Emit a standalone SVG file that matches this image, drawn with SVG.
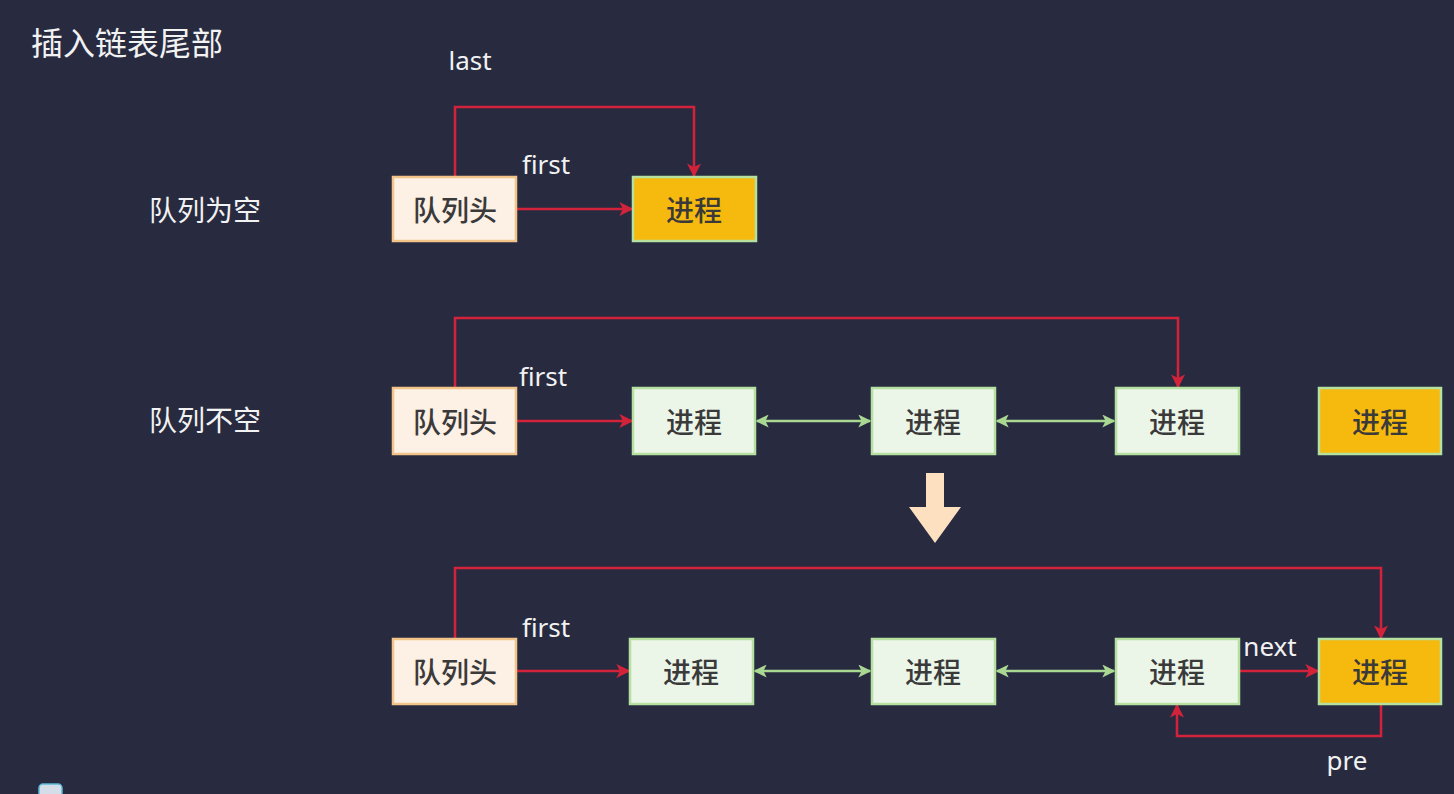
<svg xmlns="http://www.w3.org/2000/svg" width="1454" height="794" viewBox="0 0 1454 794">
<style>
.bg{fill:#282b40}
.head rect{fill:#fdf0e5;stroke:#f3c489;stroke-width:2.5}
.proc rect{fill:#ebf5e8;stroke:#b5e09f;stroke-width:2.5}
.cur rect{fill:#f6b90e;stroke:#b5e09f;stroke-width:2.5}
.nt{font-family:"Noto Sans CJK SC","Noto Sans",sans-serif;font-size:28px;font-weight:500;fill:#3a3a3a;text-anchor:middle;dominant-baseline:central}
.lbl{font-family:"Noto Sans CJK SC","Noto Sans",sans-serif;font-size:28px;fill:#f2f2f2}
.en{font-family:"Noto Sans","Open Sans",sans-serif;font-size:26px;fill:#f2f2f2;text-anchor:middle}
.red{fill:none;stroke:#d3233a;stroke-width:2.5;marker-end:url(#ra)}
.grn{fill:none;stroke:#a9d892;stroke-width:2.5;marker-end:url(#ga);marker-start:url(#gs)}
</style>
<defs>
<marker id="ra" viewBox="0 0 10 10" refX="9" refY="5" markerWidth="14" markerHeight="14" orient="auto" markerUnits="userSpaceOnUse"><path d="M0,0 L10,5 L0,10 L2.5,5 Z" fill="#d3233a"/></marker>
<marker id="ga" viewBox="0 0 10 10" refX="9" refY="5" markerWidth="13" markerHeight="13" orient="auto" markerUnits="userSpaceOnUse"><path d="M0,0 L10,5 L0,10 L2.5,5 Z" fill="#a9d892"/></marker>
<marker id="gs" viewBox="0 0 10 10" refX="1" refY="5" markerWidth="13" markerHeight="13" orient="auto" markerUnits="userSpaceOnUse"><path d="M10,0 L0,5 L10,10 L7.5,5 Z" fill="#a9d892"/></marker>
</defs>
<rect class="bg" x="0" y="0" width="1454" height="794"/>

<g id="labels">
<text class="lbl" x="31" y="55" style="font-size:32px">插入链表尾部</text>
<text class="lbl" x="149" y="221">队列为空</text>
<text class="lbl" x="149" y="431">队列不空</text>
</g>

<g id="connectors">
<path class="red" d="M455,177 V107 H694 V176"/>
<path class="red" d="M516,209 H632"/>
<text class="en" x="470" y="70">last</text>
<text class="en" x="546" y="174">first</text>
<path class="red" d="M455,388 V318 H1178 V387"/>
<path class="red" d="M516,421 H632"/>
<text class="en" x="543" y="386">first</text>
<path class="grn" d="M757,421 H870"/>
<path class="grn" d="M997,421 H1114"/>
<path class="red" d="M455,639 V568 H1381 V638"/>
<path class="red" d="M516,671 H629"/>
<text class="en" x="546" y="637">first</text>
<path class="grn" d="M755,671 H870"/>
<path class="grn" d="M997,671 H1114"/>
<path class="red" d="M1239,671 H1318"/>
<text class="en" x="1270" y="656">next</text>
<path class="red" d="M1381,704 V736 H1177 V705"/>
<text class="en" x="1347" y="770">pre</text>
</g>

<g id="big-arrow">
<path d="M926,473 H944 V507 H961 L935,543 L909,507 H926 Z" fill="#fde0bf"/>
</g>

<g id="n-head1" class="head"><rect x="393" y="177" width="123" height="64"/><text class="nt" x="455" y="209">队列头</text></g>
<g id="n-cur1" class="cur"><rect x="633" y="177" width="123" height="64"/><text class="nt" x="694" y="209">进程</text></g>

<g id="n-head2" class="head"><rect x="393" y="388" width="123" height="66"/><text class="nt" x="455" y="421">队列头</text></g>
<g id="n-p21" class="proc"><rect x="633" y="388" width="122" height="66"/><text class="nt" x="694" y="421">进程</text></g>
<g id="n-p22" class="proc"><rect x="872" y="388" width="123" height="66"/><text class="nt" x="933" y="421">进程</text></g>
<g id="n-p23" class="proc"><rect x="1116" y="388" width="123" height="66"/><text class="nt" x="1177" y="421">进程</text></g>
<g id="n-cur2" class="cur"><rect x="1319" y="388" width="122" height="66"/><text class="nt" x="1380" y="421">进程</text></g>

<g id="n-head3" class="head"><rect x="393" y="639" width="123" height="65"/><text class="nt" x="455" y="671">队列头</text></g>
<g id="n-p31" class="proc"><rect x="630" y="639" width="123" height="65"/><text class="nt" x="691" y="671">进程</text></g>
<g id="n-p32" class="proc"><rect x="872" y="639" width="123" height="65"/><text class="nt" x="933" y="671">进程</text></g>
<g id="n-p33" class="proc"><rect x="1116" y="639" width="123" height="65"/><text class="nt" x="1177" y="671">进程</text></g>
<g id="n-cur3" class="cur"><rect x="1319" y="639" width="122" height="65"/><text class="nt" x="1380" y="671">进程</text></g>

<rect x="39" y="784" width="23" height="16" rx="4" fill="#d4dde8" stroke="#5bb8d8" stroke-width="1.5"/>
</svg>
